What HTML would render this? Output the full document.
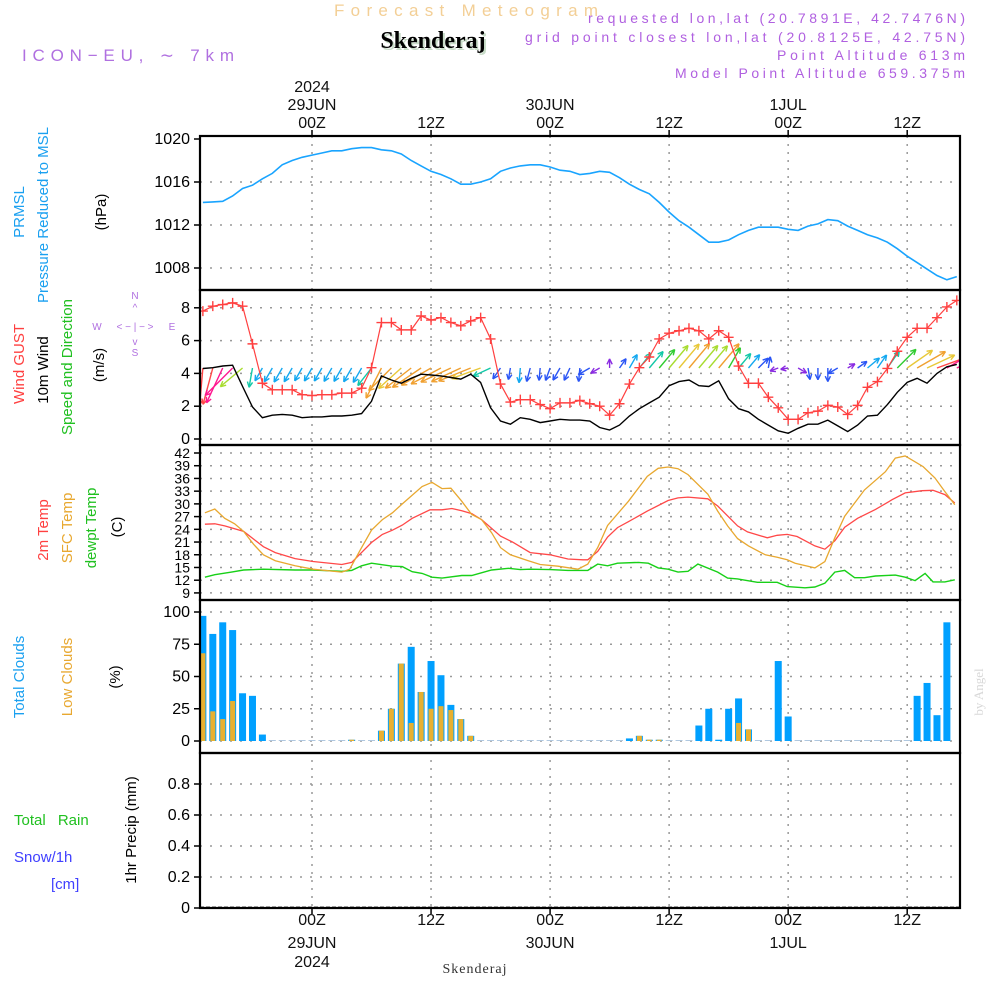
<!DOCTYPE html>
<html><head><meta charset="utf-8"><title>Forecast Meteogram - Skenderaj</title>
<style>
html,body{margin:0;padding:0;background:#fff;}
svg{display:block;font-family:"Liberation Sans",sans-serif;}
</style></head>
<body>
<svg id="chart" width="1000" height="1000" viewBox="0 0 1000 1000" xmlns="http://www.w3.org/2000/svg">
<g id="header">
<text x="334" y="16" textLength="264" lengthAdjust="spacing" font-size="17" fill="#f3cf96">Forecast Meteogram</text>
<text x="435" y="50" text-anchor="middle" font-size="24" font-weight="bold" font-family="Liberation Serif, serif" fill="#c8dcc8">Skenderaj</text>
<text x="433" y="48" text-anchor="middle" font-size="24" font-weight="bold" font-family="Liberation Serif, serif" fill="#000">Skenderaj</text>
<text x="22" y="61" textLength="212" lengthAdjust="spacing" font-size="17" fill="#b070e0">ICON−EU, ∼ 7km</text>
<text x="588" y="23" textLength="377" lengthAdjust="spacing" font-size="14" fill="#b060e0">requested lon,lat (20.7891E, 42.7476N)</text>
<text x="525" y="42" textLength="440" lengthAdjust="spacing" font-size="14" fill="#b060e0">grid point closest lon,lat (20.8125E, 42.75N)</text>
<text x="777" y="60" textLength="188" lengthAdjust="spacing" font-size="14" fill="#b060e0">Point Altitude 613m</text>
<text x="675" y="78" textLength="290" lengthAdjust="spacing" font-size="14" fill="#b060e0">Model Point Altitude 659.375m</text>
</g>
<g id="grid"></g>
<g id="series"></g>
<g id="frame"></g>
<g id="labels">
<text transform="translate(24,212) rotate(-90)" text-anchor="middle" font-size="15" fill="#1aa0f0">PRMSL</text>
<text transform="translate(48,215) rotate(-90)" text-anchor="middle" font-size="15" fill="#1aa0f0">Pressure Reduced to MSL</text>
<text transform="translate(106,212) rotate(-90)" text-anchor="middle" font-size="15" fill="#000">(hPa)</text>
<text transform="translate(24,364) rotate(-90)" text-anchor="middle" font-size="15" fill="#ff4040">Wind GUST</text>
<text transform="translate(48,370) rotate(-90)" text-anchor="middle" font-size="15" fill="#000">10m Wind</text>
<text transform="translate(72,367) rotate(-90)" text-anchor="middle" font-size="15" fill="#20c020">Speed and Direction</text>
<text transform="translate(104,365) rotate(-90)" text-anchor="middle" font-size="15" fill="#000">(m/s)</text>
<g font-size="10" fill="#b070e0">
<text x="135" y="299" text-anchor="middle">N</text><text x="135" y="311" text-anchor="middle">^</text>
<text x="97" y="330" text-anchor="middle">W</text><text x="135" y="330" text-anchor="middle">&lt; − | − &gt;</text>
<text x="172" y="330" text-anchor="middle">E</text><text x="135" y="345" text-anchor="middle">v</text>
<text x="135" y="356" text-anchor="middle">S</text></g>
<text transform="translate(48,530) rotate(-90)" text-anchor="middle" font-size="15" fill="#ff4040">2m Temp</text>
<text transform="translate(72,528) rotate(-90)" text-anchor="middle" font-size="15" fill="#e8a830">SFC Temp</text>
<text transform="translate(96,528) rotate(-90)" text-anchor="middle" font-size="15" fill="#20c020">dewpt Temp</text>
<text transform="translate(122,527) rotate(-90)" text-anchor="middle" font-size="15" fill="#000">(C)</text>
<text transform="translate(24,677) rotate(-90)" text-anchor="middle" font-size="15" fill="#1aa0f0">Total Clouds</text>
<text transform="translate(72,677) rotate(-90)" text-anchor="middle" font-size="15" fill="#e8a830">Low Clouds</text>
<text transform="translate(120,677) rotate(-90)" text-anchor="middle" font-size="15" fill="#000">(%)</text>
<text x="14" y="825" font-size="15" fill="#20c020" word-spacing="8">Total  Rain</text>
<text x="14" y="862" font-size="15" fill="#4040ff">Snow/1h</text>
<text x="51" y="889" font-size="15" fill="#4040ff">[cm]</text>
<text transform="translate(136,830) rotate(-90)" text-anchor="middle" font-size="15" fill="#000">1hr Precip (mm)</text>
<text transform="translate(983,692) rotate(-90)" text-anchor="middle" font-size="13" font-family="Liberation Serif, serif" fill="#d8d8d8">by Angel</text>
<text x="475" y="973" text-anchor="middle" font-size="14" font-family="Liberation Serif, serif" fill="#333" letter-spacing="1">Skenderaj</text>
</g>
</svg>
<script>
// ---- data (hour offsets from 00Z 29JUN 2024) ----
const timeTickHours = [0, 12, 24, 36, 48, 60];
const timeTickLabels = ["00Z", "12Z", "00Z", "12Z", "00Z", "12Z"];
const dateTickHours = [0, 24, 48];
const dateTickLabels = ["29JUN", "30JUN", "1JUL"];
const yearLabel = "2024";
const hourlyStart = -11;

const pressureTicks = [1008, 1012, 1016, 1020];
const pressure = [1014.1,1014.15,1014.2,1014.7,1015.4,1015.7,1016.3,1016.8,1017.6,1018.0,1018.3,1018.5,1018.7,1018.9,1018.9,1019.1,1019.2,1019.2,1019.0,1018.9,1018.6,1018.0,1017.5,1017.0,1016.7,1016.3,1015.8,1015.8,1016.0,1016.3,1017.0,1017.3,1017.5,1017.6,1017.6,1017.4,1017.1,1017.0,1016.7,1016.8,1017.0,1016.9,1016.4,1015.8,1015.3,1014.9,1014.1,1013.2,1012.4,1011.8,1011.1,1010.4,1010.4,1010.6,1011.1,1011.5,1011.8,1011.8,1011.8,1011.6,1011.5,1011.9,1012.1,1012.5,1012.4,1011.9,1011.5,1011.1,1010.8,1010.4,1009.8,1009.1,1008.5,1007.9,1007.3,1006.9,1007.2];

const windTicks = [0, 2, 4, 6, 8];
const windGust = [7.8,8.1,8.2,8.3,8.1,5.8,3.4,3.0,3.0,3.0,2.7,2.65,2.7,2.7,2.8,2.8,3.1,4.35,7.1,7.1,6.65,6.65,7.5,7.25,7.4,7.1,6.9,7.2,7.4,6.1,3.35,2.25,2.4,2.4,2.1,1.85,2.2,2.2,2.35,2.15,2.0,1.45,2.15,3.35,4.35,5.0,6.1,6.45,6.6,6.75,6.6,6.1,6.6,6.2,4.45,3.4,3.4,2.55,1.9,1.2,1.2,1.6,1.7,2.05,1.95,1.5,2.05,3.15,3.5,4.3,5.35,6.2,6.75,6.75,7.4,8.05,8.45];
const windSpeed = [4.3,4.35,4.45,4.5,3.2,1.95,1.3,1.45,1.5,1.45,1.3,1.35,1.35,1.4,1.4,1.45,1.55,2.3,3.85,3.6,3.4,3.7,3.95,3.9,3.85,3.75,3.65,3.95,3.45,1.9,1.1,0.9,1.3,1.2,1.0,1.1,1.2,1.15,1.15,1.1,0.7,0.55,0.85,1.4,1.85,2.2,2.55,3.25,3.5,3.6,3.25,3.2,3.55,2.45,1.85,1.65,1.2,0.85,0.5,0.35,0.65,0.9,0.9,1.15,0.8,0.45,0.85,1.4,1.45,2.1,2.85,3.45,3.7,3.4,4.0,4.4,4.55];
const windDir = [185,195,205,225,230,190,210,210,210,210,210,210,210,210,210,210,210,218,207,225,228,232,236,240,242,245,245,248,250,245,215,190,185,195,185,200,210,205,185,240,240,0,35,30,38,40,40,40,40,40,40,40,40,30,40,40,45,10,250,260,120,170,180,180,240,60,55,50,35,35,45,55,60,65,70,60,65];

const tempTicks = [9,12,15,18,21,24,27,30,33,36,39,42];
const t2mHours = [-10.8,-9.8,-8.8,-6.9,-4.9,-3.7,-1.7,0.1,3.0,4.0,6.0,7.1,8.1,9.1,10.1,11.9,13.1,14.1,15.1,16.1,17.1,19.0,20.2,22.0,24.0,25.8,27.3,27.8,28.8,29.8,30.8,31.9,33.8,35.9,36.9,37.9,39.9,40.9,42.9,43.9,45.9,46.9,47.9,48.9,50.7,51.7,52.7,53.7,55.0,56.8,58.5,59.8,61.5,62.6,63.8,64.8];
const t2m = [25.2,25.3,24.8,23.5,19.9,18.5,17.1,16.4,15.7,16.2,20.9,22.8,23.8,25.0,26.6,28.6,28.6,28.9,28.4,27.7,26.3,22.4,21.0,18.5,18.0,17.0,16.8,16.8,18.8,22.2,24.4,25.8,28.3,30.8,31.4,31.6,31.2,29.5,24.8,23.4,22.0,22.6,22.8,22.3,20.1,19.3,21.3,24.5,26.6,28.7,31.0,32.6,33.1,33.2,32.2,30.2];
const sfcHours = [-10.8,-9.8,-8.8,-7.8,-6.9,-5.9,-4.9,-3.7,-1.7,0.1,3.0,3.8,5.0,6.0,7.1,8.1,9.1,11.1,12.1,13.1,14.0,15.1,16.1,17.1,18.1,19.0,20.0,21.8,23.0,24.8,26.8,27.8,28.8,29.8,31.9,33.8,34.9,35.9,36.9,37.9,39.9,40.9,41.9,42.9,44.0,45.7,46.9,47.9,48.7,50.7,51.7,52.7,53.7,55.7,57.8,58.8,59.8,61.6,62.8,63.8,64.8];
const sfcTemp = [27.9,28.8,26.6,25.3,23.5,20.5,18.0,16.6,15.4,14.6,13.9,14.6,19.7,23.8,26.3,27.9,30.0,34.1,35.1,33.6,33.7,30.6,27.5,26.3,23.2,19.7,18.0,16.6,15.7,15.3,14.6,15.8,19.7,24.9,30.6,36.5,38.4,38.7,38.3,36.9,32.3,28.3,24.8,21.8,20.1,18.0,17.4,16.8,16.0,14.9,16.4,22.0,27.1,33.3,37.6,40.8,41.3,38.8,36.1,32.9,29.8];
const dewHours = [-10.8,-9.8,-8.1,-6.9,-4.9,-1.7,0.1,3.0,4.0,5.0,6.0,8.1,9.1,10.1,11.1,12.1,13.1,15.1,16.1,18.1,19.8,21.0,22.0,24.0,25.8,27.8,28.8,29.8,30.8,32.9,33.9,34.9,35.9,36.9,37.9,38.9,40.9,41.9,42.9,44.9,46.9,47.9,49.7,50.7,51.7,52.7,53.7,54.7,55.7,56.8,58.8,59.8,60.8,61.8,62.6,63.8,64.8];
const dewTemp = [12.7,13.3,13.9,14.4,14.6,14.4,14.4,14.1,14.3,15.4,16.0,15.3,15.2,14.0,13.6,12.7,12.5,13.1,13.1,14.4,14.8,14.5,14.6,14.5,14.3,14.3,15.8,15.4,16.0,16.2,16.0,14.9,14.6,13.9,14.1,15.8,13.9,12.5,12.3,11.5,11.5,10.5,10.2,10.4,11.3,13.9,14.3,12.6,12.6,13.0,13.2,12.7,11.9,13.6,11.6,11.6,12.1];

const cloudTicks = [0, 25, 50, 75, 100];
const totalClouds = [97,83,92,86,37,35,5,0,0,0,0,0,0,0,0,1,0,0,8,25,60,73,38,62,51,28,17,4,0,0,0,0,0,0,0,0,0,0,0,0,0,0,0,2,4,1,1,0,0,0,12,25,1,25,33,9,0,0,62,19,0,0,0,0,0,0,0,0,0,0,0,0,35,45,20,92];
const lowClouds = [68,23,17,31,0,0,0,0,0,0,0,0,0,0,0,1,0,0,8,25,60,14,38,25,27,24,17,4,0,0,0,0,0,0,0,0,0,0,0,0,0,0,0,0,4,1,1,0,0,0,0,0,0,0,14,9,0,0,0,0,0,0,0,0,0,0,0,0,0,0,0,0,0,0,0,0];

const precipTicks = [0, 0.2, 0.4, 0.6, 0.8];
const precipTickLabels = ["0", "0.2", "0.4", "0.6", "0.8"];

// ---- axes ----
const X0 = 200, X1 = 960;
const xH = h => 312 + 9.92 * h;
const yP = p => 139 + (1020 - p) * 10.75;
const yW = w => 439 - w * 16.4;
const yT = t => 453 + (42 - t) * 4.24;
const yC = c => 741 - c * 1.29;
const yR = r => 908 - r * 155;
const panels = [[136, 290], [290, 445], [445, 600], [600, 753], [753, 908]];

const NS = "http://www.w3.org/2000/svg";
function mk(tag, attrs, parent) {
  const e = document.createElementNS(NS, tag);
  for (const k in attrs) e.setAttribute(k, attrs[k]);
  parent.appendChild(e);
  return e;
}
const svg = document.getElementById("chart");
const gGrid = document.getElementById("grid");
const gSer = document.getElementById("series");
const gFrame = document.getElementById("frame");

let defs = mk("defs", {}, svg);
let cp = mk("clipPath", {id: "plotclip"}, defs);
mk("rect", {x: X0, y: 136, width: X1 - X0, height: 772}, cp);
gSer.setAttribute("clip-path", "url(#plotclip)");

// vertical grid
timeTickHours.forEach((h, i) => {
  const ln = mk("line", {x1: xH(h), x2: xH(h), y1: 136, y2: 908, stroke: "#999", "stroke-width": 1.5, "stroke-dasharray": "2,6"}, gGrid);
  
  
  const t1 = mk("text", {x: xH(h), y: 128, "text-anchor": "middle", "font-size": 16, fill: "#111"}, gGrid);
  t1.textContent = timeTickLabels[i];
  
  
  const t2 = mk("text", {x: xH(h), y: 925, "text-anchor": "middle", "font-size": 16, fill: "#111"}, gGrid);
  t2.textContent = timeTickLabels[i];
  
  
  mk("line", {x1: xH(h), x2: xH(h), y1: 130, y2: 136, stroke: "#000", "stroke-width": 1.5}, gGrid);
  mk("line", {x1: xH(h), x2: xH(h), y1: 908, y2: 914, stroke: "#000", "stroke-width": 1.5}, gGrid);
});
dateTickHours.forEach((h, i) => {
  const t1 = mk("text", {x: xH(h), y: 110, "text-anchor": "middle", "font-size": 16, fill: "#111"}, gGrid);
  t1.textContent = dateTickLabels[i];
  
  
  const t2 = mk("text", {x: xH(h), y: 948, "text-anchor": "middle", "font-size": 16, fill: "#111"}, gGrid);
  t2.textContent = dateTickLabels[i];
  
  
});
{
  const y1 = mk("text", {x: xH(0), y: 92, "text-anchor": "middle", "font-size": 16, fill: "#111"}, gGrid);
  y1.textContent = yearLabel;
  
  
  const y2 = mk("text", {x: xH(0), y: 967, "text-anchor": "middle", "font-size": 16, fill: "#111"}, gGrid);
  y2.textContent = yearLabel;
  
  
}

function yAxis(ticks, labels, fy, name, top, bot, fs) {
  ticks.forEach((v, i) => {
    const y = fy(v);
    if (y > top + 3 && y < bot - 3) {
      const g = mk("line", {x1: X0, x2: X1, y1: y, y2: y, stroke: "#999", "stroke-width": 1.5, "stroke-dasharray": "2,8"}, gGrid);
      
      
    }
    mk("line", {x1: X0 - 6, x2: X0, y1: y, y2: y, stroke: "#000", "stroke-width": 1.5}, gGrid);
    const t = mk("text", {x: 190, y: y + 5, "text-anchor": "end", "font-size": fs, fill: "#000"}, gGrid);
    t.textContent = labels ? labels[i] : String(v);
    
    
  });
}
yAxis(pressureTicks, null, yP, "pressure", 136, 290, 16);
yAxis(windTicks, null, yW, "wind", 290, 445, 16);
yAxis(tempTicks, null, yT, "temp", 445, 600, 14);
yAxis(cloudTicks, null, yC, "cloud", 600, 753, 16);
yAxis(precipTicks, precipTickLabels, yR, "precip", 753, 908, 16);

function pathFrom(hours, vals, fy) {
  return vals.map((v, i) => (i ? "L" : "M") + xH(hours[i]).toFixed(1) + "," + fy(v).toFixed(1)).join(" ");
}
const hourly = n => Array.from({length: n}, (_, i) => hourlyStart + i);

// pressure
{
  const p = mk("path", {d: pathFrom(hourly(pressure.length), pressure, yP), fill: "none", stroke: "#19a4ff", "stroke-width": 1.6}, gSer);
  
  
}

// wind arrows
function windColor(s) {
  if (s < 0.8) return "#8a2be2";
  if (s < 1.25) return "#2a55f5";
  if (s < 1.8) return "#14a8f0";
  if (s < 2.4) return "#12c8a8";
  if (s < 3.0) return "#30cc30";
  if (s < 3.3) return "#a8dc30";
  if (s < 3.55) return "#e8c838";
  if (s < 4.0) return "#f0a030";
  if (s < 4.4) return "#ff4848";
  return "#ff1890";
}
windDir.forEach((d, i) => {
  const s = windSpeed[i];
  const L = 5 + 7.5 * s;
  const a = d * Math.PI / 180;
  const x0 = xH(hourlyStart + i), y0 = 368;
  const x1 = x0 + Math.sin(a) * L, y1 = y0 - Math.cos(a) * L;
  const col = windColor(s);
  const g = mk("g", {stroke: col, "stroke-width": 1.4, fill: "none"}, gSer);
  
  
  mk("line", {x1: x0, y1: y0, x2: x1, y2: y1}, g);
  [0.45, -0.45].forEach(o => {
    const b = a + Math.PI + o;
    mk("line", {x1: x1, y1: y1, x2: x1 + Math.sin(b) * 6, y2: y1 - Math.cos(b) * 6}, g);
  });
});

// wind speed line
{
  const p = mk("path", {d: pathFrom(hourly(windSpeed.length), windSpeed, yW), fill: "none", stroke: "#000", "stroke-width": 1.4}, gSer);
  
  
}
// gust line + markers
{
  const hrs = hourly(windGust.length);
  const p = mk("path", {d: pathFrom(hrs, windGust, yW), fill: "none", stroke: "#ff4040", "stroke-width": 1.2}, gSer);
  
  
  windGust.forEach((v, i) => {
    const x = xH(hrs[i]), y = yW(v);
    const m = mk("path", {d: `M${x - 5},${y}H${x + 5}M${x},${y - 5}V${y + 5}`, stroke: "#ff4040", "stroke-width": 1.4}, gSer);
    
    
  });
}

// temperatures
{
  const a = mk("path", {d: pathFrom(dewHours, dewTemp, yT), fill: "none", stroke: "#18d018", "stroke-width": 1.4}, gSer);
  
  
  const b = mk("path", {d: pathFrom(t2mHours, t2m, yT), fill: "none", stroke: "#ff4848", "stroke-width": 1.3}, gSer);
  
  
  const c = mk("path", {d: pathFrom(sfcHours, sfcTemp, yT), fill: "none", stroke: "#e8a830", "stroke-width": 1.3}, gSer);
  
  
}

// clouds
totalClouds.forEach((v, i) => {
  const x = xH(hourlyStart + i);
  if (v > 0) {
    const r = mk("rect", {x: x - 3.5, y: yC(v), width: 7, height: yC(0) - yC(v), fill: "#00a0ff"}, gSer);
    
    
  }
  const lv = lowClouds[i];
  if (lv > 0) {
    const r2 = mk("rect", {x: x - 2.5, y: yC(lv), width: 5, height: yC(0) - yC(lv), fill: "#e8b030"}, gSer);
    
    
  }
  if (v === 0 && lv === 0) {
    mk("line", {x1: x - 3.5, x2: x + 3.5, y1: yC(0) - 0.5, y2: yC(0) - 0.5, stroke: "#b0c8e0", "stroke-width": 1}, gSer);
  }
});

// precip baseline
{
  const l = mk("line", {x1: X0, x2: X1, y1: 907, y2: 907, stroke: "#444", "stroke-width": 1, "stroke-dasharray": "4,2"}, gSer);
  
  
}

// frame
panels.forEach(([t, b], i) => {
  const r = mk("rect", {x: X0, y: t, width: X1 - X0, height: b - t, fill: "none", stroke: "#000", "stroke-width": 2.2}, gFrame);
  
  
});
</script>
</body></html>
